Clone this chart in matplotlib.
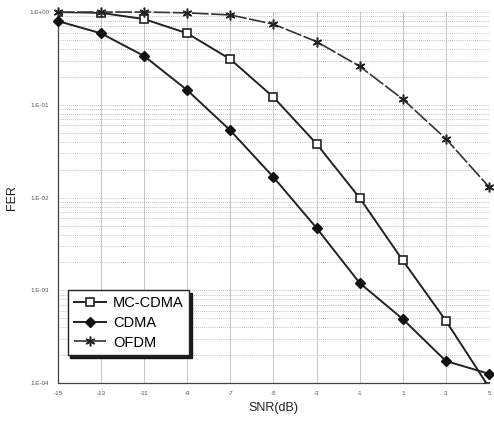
import matplotlib
matplotlib.use("Agg")
import matplotlib.pyplot as plt
from matplotlib.ticker import FixedLocator, FixedFormatter, LogLocator, NullFormatter

snr = [-15, -13, -11, -9, -7, -5, -3, -1, 1, 3, 5]
mc_cdma = [1.0, 0.98, 0.84, 0.59, 0.31, 0.121, 0.038, 0.0099, 0.0021, 0.00047, 0.00009]
cdma = [0.8, 0.59, 0.336, 0.144, 0.053, 0.0166, 0.0047, 0.0012, 0.00049, 0.000173, 0.000126]
ofdm = [1.0, 1.0, 1.0, 0.98, 0.93, 0.74, 0.48, 0.26, 0.115, 0.043, 0.013]
ytick_vals = [1e-4, 1e-3, 1e-2, 1e-1, 1e0]
ytick_labels = ["1.E-04", "1.E-03", "1.E-02", "1.E-01", "1.E+00"]
xtick_vals = [-15, -13, -11, -9, -7, -5, -3, -1, 1, 3, 5]

plt.rcParams['font.family'] = ['Liberation Sans', 'DejaVu Sans']
fig = plt.figure(figsize=(4.94, 4.30), dpi=100)
ax = fig.add_axes([0.117, 0.109, 0.873, 0.863])
ax.set_yscale('log')
ax.set_xlim(-15, 5)
ax.set_ylim(1e-4, 1)

ax.plot(snr, mc_cdma, color='#222222', lw=1.4, marker='s', ms=5.8,
        mfc='white', mec='#222222', mew=1.2, label='MC-CDMA', zorder=3)
ax.plot(snr, cdma, color='#222222', lw=1.4, marker='D', ms=5,
        mfc='#111111', mec='#111111', label='CDMA', zorder=4, clip_on=False)
ax.plot(snr, ofdm, color='#333333', lw=1.2, ls=(0, (10, 1.5)), marker=(6, 2, 0), ms=7,
        mew=1.1, mec='#222222', label='OFDM', zorder=3, clip_on=False)

ax.yaxis.set_major_locator(FixedLocator(ytick_vals))
ax.yaxis.set_major_formatter(FixedFormatter(ytick_labels))
ax.yaxis.set_minor_locator(LogLocator(base=10, subs=range(2, 10)))
ax.yaxis.set_minor_formatter(NullFormatter())
ax.set_xticks(xtick_vals)
ax.set_xticklabels([str(v) for v in xtick_vals])
ax.tick_params(axis='both', which='both', length=0, labelsize=4.5,
               labelcolor='#555555', pad=6)

ax.grid(True, which='major', axis='x', color='#bbbbbb', lw=0.6)
ax.grid(True, which='both', axis='y', color='#aaaaaa', lw=0.6, ls=(0, (1, 1.5)))

for s in ['top', 'right']:
    ax.spines[s].set_visible(False)
for s in ['left', 'bottom']:
    ax.spines[s].set_color('#444444')
    ax.spines[s].set_linewidth(0.9)

ax.set_xlabel('SNR(dB)', fontsize=9, color='#222222', labelpad=4)
ax.set_ylabel('FER', fontsize=9, color='#222222', labelpad=8)

leg = ax.legend(loc='lower left', bbox_to_anchor=(0.006, 0.055), fontsize=10.5,
                fancybox=False, shadow={'color': '#111111', 'alpha': 0.95},
                framealpha=1, edgecolor='#222222',
                handlelength=2.2, borderpad=0.4, labelspacing=0.4,
                handletextpad=0.5)
leg.get_frame().set_linewidth(1.0)

fig.savefig('out.png', dpi=100)
